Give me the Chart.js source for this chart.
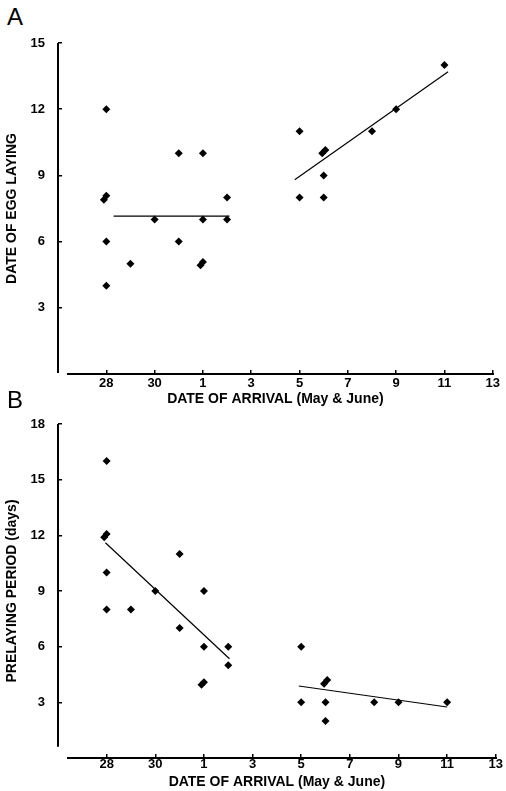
<!DOCTYPE html>
<html>
<head>
<meta charset="utf-8">
<script src="https://cdn.jsdelivr.net/npm/chart.js@4.4.1/dist/chart.umd.min.js"></script>
<style>
  body { margin: 0; background: #fff; }
  #wrap { position: relative; width: 506px; height: 791px; overflow: hidden; }
  canvas { position: absolute; left: 0; }
  .plabel {
    position: absolute; left: 7px;
    font: 24px/24px "Liberation Sans", Arial, sans-serif; color: #000;
  }
</style>
</head>
<body>
<div id="wrap">
  <div class="plabel" style="top:5px">A</div>
  <canvas id="chart-a" width="506" height="410" style="top:0"></canvas>
  <div class="plabel" style="top:388px">B</div>
  <canvas id="chart-b" width="506" height="411" style="top:380px"></canvas>
</div>
<script>
// x is the day of arrival counted on from May (June 1 = 32)
const xTickValues = [28, 30, 32, 34, 36, 38, 40, 42, 44];
const xTickLabels = ["28", "30", "1", "3", "5", "7", "9", "11", "13"];
const xAxisTitle = "DATE OF ARRIVAL (May & June)";

// Panel A - date of egg laying
const eggTicks = [3, 6, 9, 12, 15];
const eggTitle = "DATE OF EGG LAYING";
const eggArrival = [28, 27.9, 28.0, 28, 28, 29, 30, 31, 31, 32, 32, 31.9, 32.0, 33, 33,
                    36, 36, 36.94, 37.07, 37, 37, 39, 40, 42];
const eggDate = [12, 7.9, 8.08, 6, 4, 5, 7, 10, 6, 10, 7, 4.93, 5.07, 8, 7,
                 11, 8, 10.0, 10.15, 9, 8, 11, 12, 14];
const eggFitEarlyX = [28.3, 33.1];
const eggFitEarlyY = [7.15, 7.15];
const eggFitLateX = [35.8, 42.15];
const eggFitLateY = [8.8, 13.7];

// Panel B - prelaying period
const preTicks = [3, 6, 9, 12, 15, 18];
const preTitle = "PRELAYING PERIOD (days)";
const preArrival = [28, 27.9, 28.0, 28, 28, 29, 30, 31, 31, 32, 32, 31.9, 32.0, 33, 33,
                    36, 36, 36.94, 37.07, 37, 37, 39, 40, 42];
const preDays = [16, 11.9, 12.07, 10, 8, 8, 9, 11, 7, 9, 6, 3.95, 4.08, 6, 5,
                 6, 3, 4.0, 4.2, 3, 2, 3, 3, 3];
const preFitEarlyX = [27.95, 33.05];
const preFitEarlyY = [11.6, 5.35];
const preFitLateX = [35.9, 42.0];
const preFitLateY = [3.88, 2.75];

Chart.defaults.font.family = '"Liberation Sans", Arial, sans-serif';
Chart.defaults.color = "#000";

function toPoints(xs, ys) {
  return xs.map((x, i) => ({ x: x, y: ys[i] }));
}

// axis lines drawn by hand so they can stop short of each other
const axisLines = {
  id: "axisLines",
  afterDraw(chart, args, opts) {
    const { ctx } = chart;
    const x = chart.scales.x;
    const y = chart.scales.y;
    ctx.save();
    ctx.strokeStyle = "#000";
    ctx.lineWidth = 2;
    ctx.beginPath();
    ctx.moveTo(x.left, y.getPixelForValue(opts.yTop));
    ctx.lineTo(x.left, y.getPixelForValue(opts.yBottom));
    ctx.moveTo(x.getPixelForValue(opts.xStart), y.bottom);
    ctx.lineTo(x.getPixelForValue(opts.xEnd), y.bottom);
    ctx.stroke();
    ctx.restore();
  }
};

function fitLine(xs, ys) {
  return {
    data: toPoints(xs, ys),
    showLine: true,
    borderColor: "#000",
    borderWidth: 1.2,
    pointRadius: 0
  };
}

function makePanel(id, p) {
  return new Chart(document.getElementById(id), {
    type: "scatter",
    data: {
      datasets: [
        {
          data: toPoints(p.xs, p.ys),
          pointStyle: "rectRot",
          pointRadius: 4,
          backgroundColor: "#000",
          borderWidth: 0
        },
        fitLine(p.fit1x, p.fit1y),
        fitLine(p.fit2x, p.fit2y)
      ]
    },
    options: {
      responsive: false,
      animation: false,
      events: [],
      layout: { padding: { left: 0, right: 9, top: p.top, bottom: 0 } },
      plugins: {
        legend: { display: false },
        tooltip: { enabled: false },
        axisLines: { yTop: p.yMax, yBottom: p.yAxisEnd, xStart: 26.37, xEnd: 44.05 }
      },
      scales: {
        x: {
          type: "linear",
          min: 26,
          max: 44,
          afterBuildTicks: (s) => { s.ticks = xTickValues.map((v) => ({ value: v })); },
          afterFit: (s) => { s.height = p.xHeight; },
          border: { display: false },
          grid: { drawOnChartArea: false, drawTicks: true, tickLength: -4, color: "#000", lineWidth: 1.5 },
          ticks: {
            padding: p.xTickPad,
            maxRotation: 0,
            font: { size: 13, weight: "bold" },
            callback: (v, i) => xTickLabels[i]
          },
          title: {
            display: true,
            text: xAxisTitle,
            font: { size: 14, weight: "bold" },
            padding: { top: 0, bottom: p.xTitlePad }
          }
        },
        y: {
          type: "linear",
          min: 0,
          max: p.yMax,
          afterBuildTicks: (s) => { s.ticks = p.yTicks.map((v) => ({ value: v })); },
          afterFit: (s) => { s.width = 58; },
          border: { display: false },
          grid: { drawOnChartArea: false, drawTicks: true, tickLength: -4, color: "#000", lineWidth: 1.5 },
          ticks: {
            padding: 17,
            font: { size: 13, weight: "bold" },
            callback: (v, i) => String(p.yTicks[i])
          },
          title: {
            display: true,
            text: p.yTitle,
            font: { size: 14, weight: "bold" },
            padding: { top: 4, bottom: 0 }
          }
        }
      }
    },
    plugins: [axisLines]
  });
}

makePanel("chart-a", {
  xs: eggArrival, ys: eggDate,
  fit1x: eggFitEarlyX, fit1y: eggFitEarlyY,
  fit2x: eggFitLateX, fit2y: eggFitLateY,
  yTicks: eggTicks, yMax: 15, yAxisEnd: 0.05, yTitle: eggTitle,
  top: 43, xHeight: 36, xTickPad: 6, xTitlePad: 2.6
});

makePanel("chart-b", {
  xs: preArrival, ys: preDays,
  fit1x: preFitEarlyX, fit1y: preFitEarlyY,
  fit2x: preFitLateX, fit2y: preFitLateY,
  yTicks: preTicks, yMax: 18, yAxisEnd: 0.6, yTitle: preTitle,
  top: 44, xHeight: 33, xTickPad: 3, xTitlePad: 0.6
});
</script>
</body>
</html>
